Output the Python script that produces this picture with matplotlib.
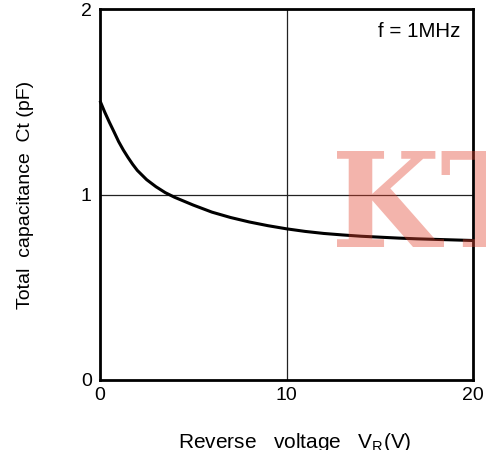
import matplotlib
matplotlib.use("Agg")
import matplotlib.pyplot as plt
from matplotlib.textpath import TextPath
from matplotlib.font_manager import FontProperties
from matplotlib.patches import PathPatch
from matplotlib.transforms import Affine2D, IdentityTransform

plt.rcParams['font.family'] = ['Liberation Sans', 'DejaVu Sans']
plt.rcParams['mathtext.fontset'] = 'custom'
plt.rcParams['mathtext.rm'] = 'Liberation Sans'
plt.rcParams['mathtext.it'] = 'Liberation Sans'

# Data
reverse_voltage = [0, 0.25, 0.5, 0.75, 1, 1.25, 1.5, 1.75, 2, 2.5, 3, 3.5, 4,
                   5, 6, 7, 8, 9, 10, 11, 12, 13, 14, 15, 16, 17, 18, 19, 20]
capacitance = [1.505, 1.445, 1.39, 1.338, 1.285, 1.24, 1.2, 1.163, 1.13,
               1.08, 1.042, 1.01, 0.985, 0.943, 0.905, 0.876, 0.852, 0.832,
               0.815, 0.801, 0.79, 0.782, 0.775, 0.77, 0.765, 0.761, 0.758,
               0.755, 0.752]
x_ticks = [0, 10, 20]
y_ticks = [0, 1, 2]

W, H = 486, 450
fig = plt.figure(figsize=(W/100, H/100), dpi=100)
ax = fig.add_axes([100/W, 70/H, 373/W, 371/H])

ax.plot(reverse_voltage, capacitance, color='black', lw=2.2,
        solid_capstyle='butt', zorder=3, clip_on=False)
ax.set_xlim(0, 20)
ax.set_ylim(0, 2)
ax.set_xticks(x_ticks)
ax.set_yticks(y_ticks)
ax.set_xticklabels([str(t) for t in x_ticks])
ax.set_yticklabels([str(t) for t in y_ticks])
ax.tick_params(length=0, labelsize=14)
ax.tick_params(axis='x', pad=5)
ax.tick_params(axis='y', pad=6)
ax.axvline(10, color='#222222', lw=0.9, zorder=1)
ax.axhline(1, color='#222222', lw=0.9, zorder=1)
for s in ax.spines.values():
    s.set_linewidth(2.0)
    s.set_color('black')

ax.text((460-100)/373, (H-37-70)/371, 'f = 1MHz', transform=ax.transAxes,
        ha='right', va='baseline', fontsize=14.8)

fig.text(178/W, 1.5/H, r'Reverse   voltage   V$_{\mathrm{R}}$(V)',
         ha='left', va='baseline', fontsize=15)
fig.text(26/W, (H-195)/H, 'Total  capacitance  Ct (pF)',
         rotation=90, ha='center', va='center', fontsize=14)

# Watermark "KT" fitted so that the K covers the same box as in the reference
fp = FontProperties(family='DejaVu Serif', weight='bold')
kb = TextPath((0, 0), 'K', size=100, prop=fp).get_extents()
full = TextPath((0, 0), 'KT', size=100, prop=fp)
tx0, tx1 = 337, 444          # pixel left/right of K
ty_top, ty_bot = 151, 247    # pixel top/bottom of K
sx = (tx1 - tx0) / kb.width
sy = (ty_bot - ty_top) / kb.height
tr = (Affine2D().translate(-kb.x0, -kb.y0).scale(sx, sy)
      .translate(tx0, H - ty_bot))
wm = PathPatch(tr.transform_path(full), transform=IdentityTransform(),
               facecolor=(0.89, 0.27, 0.19), edgecolor='none', alpha=0.4,
               zorder=10)
fig.add_artist(wm)

fig.savefig('out.png', dpi=100)
